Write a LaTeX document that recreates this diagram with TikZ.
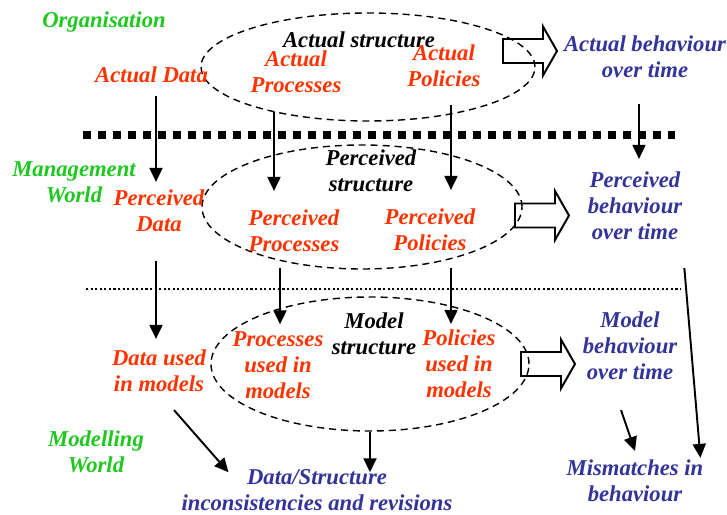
\documentclass[tikz,border=0pt]{standalone}
\usepackage{fontspec}
\setmainfont{Liberation Serif}
\usetikzlibrary{arrows.meta,shapes.geometric}

\definecolor{worldgreen}{RGB}{30,200,30}
\definecolor{partred}{RGB}{255,51,0}
\definecolor{behblue}{RGB}{51,51,153}

\tikzset{
  txt/.style={font=\fontsize{12.9}{14.8}\selectfont\bfseries\itshape, align=center, inner sep=1pt},
  world/.style={txt, text=worldgreen},
  part/.style={txt, text=partred},
  beh/.style={txt, text=behblue},
  structure/.style={draw, ellipse, dash pattern=on 4pt off 2.8pt, line width=0.8pt, inner sep=0pt},
  flow/.style={line width=1.1pt, -{Triangle[width=2.6mm,length=2.8mm]}},
  bigarrow/.pic={\draw[line width=1.1pt] (0,0.24) -- (0.8,0.24) -- (0.8,0.49) -- (1.08,0)
    -- (0.8,-0.49) -- (0.8,-0.24) -- (0,-0.24) -- cycle;}
}

\begin{document}
\begin{tikzpicture}
\useasboundingbox (0,0) rectangle (14.54,10.30);

% Structures
\node[structure, minimum width=6.68cm, minimum height=2.16cm] (astructure) at (7.36,8.96) {};
\node[structure, minimum width=6.40cm, minimum height=2.48cm] (pstructure) at (7.24,6.16) {};
\node[structure, minimum width=6.36cm, minimum height=2.68cm] (mstructure) at (7.40,3.02) {};

% Worlds
\node[world] (org) at (2.08,9.86) {Organisation};
\node[world] (mgmt) at (1.48,6.66) {Management\\World};
\node[world] (modw) at (1.92,1.26) {Modelling\\World};

% Data, processes and policies
\node[part] (adata) at (3.03,8.80) {Actual Data};
\node[part] (pdata) at (3.18,6.08) {Perceived\\Data};
\node[part] (udata) at (3.18,2.88) {Data used\\in models};

\node[txt] (alabel) at (7.18,9.50) {Actual structure};
\node[part] (aproc) at (5.92,8.86) {Actual\\Processes};
\node[part] (apol) at (8.88,8.98) {Actual\\Policies};

\node[txt] (plabel) at (7.42,6.88) {Perceived\\structure};
\node[part] (pproc) at (5.88,5.68) {Perceived\\Processes};
\node[part] (ppol) at (8.60,5.70) {Perceived\\Policies};

\node[txt] (mlabel) at (7.48,3.62) {Model\\structure};
\node[part] (uproc) at (5.56,3.00) {Processes\\used in\\models};
\node[part] (upol) at (9.18,3.02) {Policies\\used in\\models};

% Behaviour
\node[beh] (abeh) at (12.90,9.16) {Actual behaviour\\over time};
\node[beh] (pbeh) at (12.70,6.18) {Perceived\\behaviour\\over time};
\node[beh] (mbeh) at (12.60,3.38) {Model\\behaviour\\over time};
\node[beh] (mism) at (12.70,0.68) {Mismatches in\\behaviour};
\node[beh] (incons) at (6.34,0.50) {Data/Structure\\inconsistencies and revisions};

\pic at (10.06,9.28) {bigarrow};
\pic at (10.30,5.99) {bigarrow};
\pic at (10.42,3.02) {bigarrow};

% Boundaries
\draw[line width=0.16cm, dash pattern=on 0.16cm off 0.14cm] (1.66,7.60) -- (13.50,7.60);
\draw[line width=1.2pt, dash pattern=on 1.2pt off 1.4pt] (1.72,4.52) -- (13.60,4.52);

% Flows
\draw[flow, shorten <=0.22cm, shorten >=0.12cm] ([xshift=-0.06cm]pdata.north |- adata.south) -- ([xshift=-0.06cm]pdata.north);
\draw[flow, shorten <=0.54cm, shorten >=0.18cm] ([xshift=-0.06cm]pdata.south) -- ([xshift=-0.06cm]udata.north);
\draw[flow, shorten <=0.34cm, shorten >=0.34cm] ([xshift=-0.44cm]aproc.south) -- ([xshift=-0.40cm]pproc.north);
\draw[flow, shorten <=0.32cm, shorten >=0.34cm] ([xshift=0.14cm]apol.south) -- ([xshift=0.42cm]ppol.north);
\draw[flow, shorten <=0.48cm, shorten >=0.22cm] ([xshift=-0.12cm]abeh.south) -- ([xshift=0.08cm]pbeh.north);
\draw[flow, shorten <=0.28cm, shorten >=0.10cm] ([xshift=-0.28cm]pproc.south) -- ([xshift=0.04cm]uproc.north);
\draw[flow, shorten <=0.30cm, shorten >=0.08cm] ([xshift=0.42cm]ppol.south) -- ([xshift=-0.16cm]upol.north);
\draw[flow] ([xshift=0.30cm,yshift=-0.32cm]udata.south) -- ([xshift=0.98cm,yshift=-0.10cm]incons.north west);
\draw[flow, shorten >=-0.1cm] (mstructure.south) -- (mstructure.south |- incons.north);
\draw[flow] ([xshift=-0.18cm,yshift=-0.56cm]mbeh.south) -- ([yshift=0.14cm]mism.north);
\draw[flow] ([yshift=-0.52cm]pbeh.south east) -- ([xshift=-0.1cm]mism.north east);

\end{tikzpicture}
\end{document}
